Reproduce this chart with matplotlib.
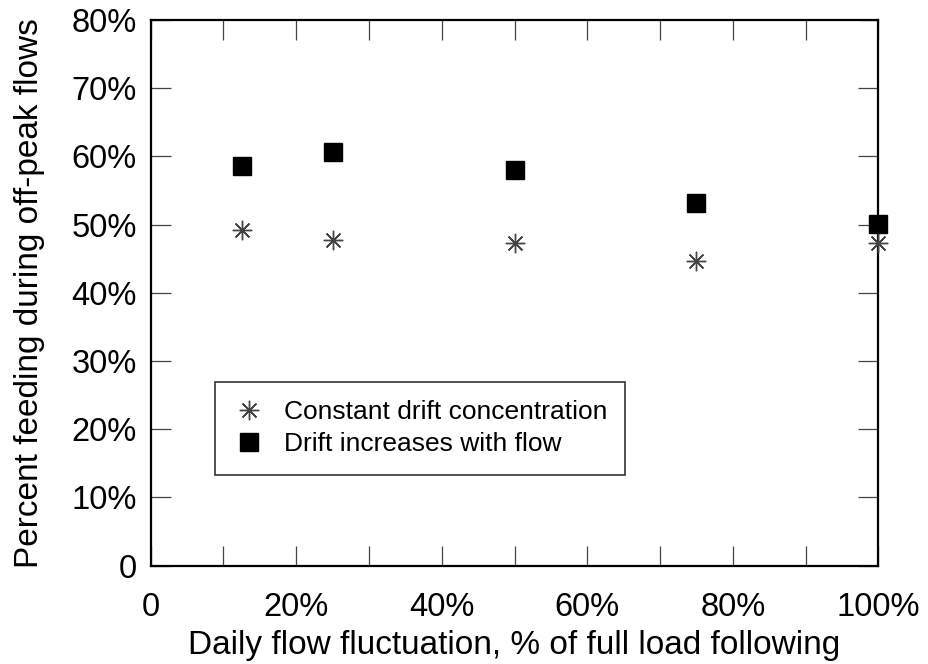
import matplotlib
matplotlib.use("Agg")
import matplotlib.pyplot as plt
from matplotlib.ticker import FixedLocator

plt.rcParams["font.family"] = ["Liberation Sans", "DejaVu Sans"]

# data (percent)
fluctuation = [12.5, 25, 50, 75, 100]
constant_drift = [49.2, 47.8, 47.3, 44.7, 47.3]
drift_with_flow = [58.6, 60.7, 58.0, 53.2, 50.1]

x_label_ticks = [0, 20, 40, 60, 80, 100]
x_labels = ["0", "20%", "40%", "60%", "80%", "100%"]
y_ticks = [0, 10, 20, 30, 40, 50, 60, 70, 80]
y_labels = ["0", "10%", "20%", "30%", "40%", "50%", "60%", "70%", "80%"]

fig = plt.figure(figsize=(9.29, 6.64), dpi=100)
ax = fig.add_axes([150.7 / 929, 1 - 565.7 / 664, (878.3 - 150.7) / 929, (565.7 - 20) / 664])

ax.plot(fluctuation, constant_drift, linestyle="none", marker=(8, 2, 0),
        markersize=14, markeredgewidth=1.0, color="#444444",
        label="Constant drift concentration", clip_on=False, zorder=5)
ax.plot(fluctuation, drift_with_flow, linestyle="none", marker="s",
        markersize=13, color="black",
        label="Drift increases with flow", clip_on=False, zorder=5)

ax.set_xlim(0, 100)
ax.set_ylim(0, 80)
ax.set_xticks(x_label_ticks)
ax.set_xticklabels(x_labels)
ax.xaxis.set_minor_locator(FixedLocator([10, 30, 50, 70, 90]))
ax.set_yticks(y_ticks)
ax.set_yticklabels(y_labels)

ax.tick_params(axis="both", which="both", direction="in", top=True, right=True,
               length=14.5, width=0.9, color="#444444", labelsize=23.5)
ax.tick_params(axis="x", which="both", pad=19)
ax.tick_params(axis="y", which="both", pad=10)
for s in ax.spines.values():
    s.set_linewidth(1.6)
    s.set_zorder(4)

ax.set_xlabel("Daily flow fluctuation, % of full load following", fontsize=24, labelpad=5)
ax.set_ylabel("Percent feeding during off-peak flows", fontsize=24, labelpad=19)

leg = ax.legend(loc="upper left", bbox_to_anchor=(215 / 929, 1 - 382 / 664),
                bbox_transform=fig.transFigure, fontsize=19, fancybox=False,
                frameon=True, edgecolor="black", borderpad=0.7,
                handletextpad=0.7, handlelength=1.2, labelspacing=0.3,
                borderaxespad=0)
leg.get_frame().set_linewidth(1.2)

fig.savefig("out.png", dpi=100)
